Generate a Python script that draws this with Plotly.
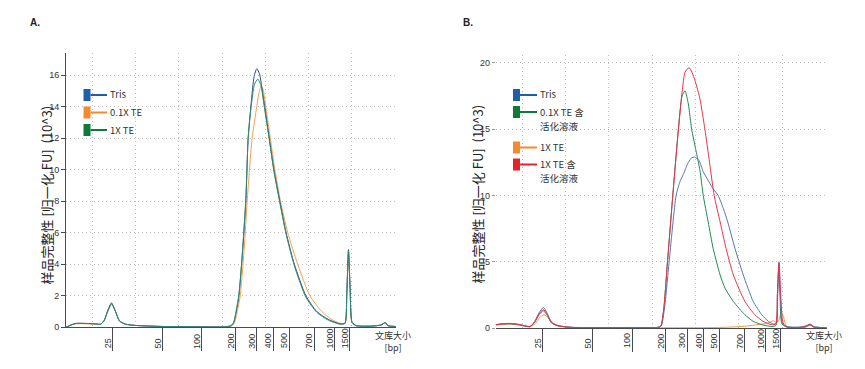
import plotly.graph_objects as go

# Page body has an 8px default margin: figure is drawn at (8, 8) in the window.
OFF = 8
W, H = 865 - 2 * OFF, 369 - 2 * OFF

# ---------------- data ----------------
# size ladder: bp labels and their migration positions (time units 0-100)
ladder_bp = ["25", "50", "100", "200", "300", "400", "500", "700", "1000", "1500"]
ladder_pos = [14.2, 29.1, 41.2, 51.4, 57.8, 62.8, 67.6, 75.3, 81.5, 86.0]

a_yticks = [0, 2, 4, 6, 8, 10, 12, 14, 16]
b_yticks = [0, 5, 10, 15, 20]

# Panel A traces: (migration position, normalized FU x10^3)
A_TRIS = [(0, 0.0), (1.5, 0.15), (3, 0.25), (6, 0.25), (9, 0.22), (10.5, 0.2), (11.6, 0.45),
          (12.6, 1.05), (13.8, 1.55), (15.0, 1.0), (16.2, 0.4), (18, 0.2), (21, 0.12), (25, 0.08),
          (30, 0.05), (40, 0.03), (48, 0.03), (50, 0.1), (50.8, 0.3), (51.5, 0.9), (52.4, 2.0),
          (53.4, 4.5), (54.5, 8.0), (55.2, 12.0), (56.1, 14.2), (57.0, 15.9), (57.8, 16.4),
          (58.6, 16.1), (59.8, 14.6), (61.6, 12.0), (63.0, 10.0), (64.8, 8.0), (66.7, 6.0),
          (69.2, 4.0), (72.7, 2.0), (76.0, 1.0), (79.5, 0.5), (83.0, 0.22), (84.5, 0.25),
          (85.1, 2.2), (85.6, 4.9), (86.1, 2.4), (86.7, 0.3), (88, 0.1), (93, 0.08), (95.5, 0.15),
          (96.7, 0.3), (97.6, 0.1), (100, 0.05)]
A_TE01 = [(0, 0.0), (1.5, 0.12), (3, 0.22), (6, 0.22), (9, 0.2), (10.5, 0.18), (11.6, 0.4),
          (12.6, 0.95), (13.9, 1.45), (15.1, 0.95), (16.3, 0.4), (18, 0.2), (21, 0.12), (25, 0.08),
          (30, 0.05), (40, 0.03), (48, 0.03), (50.2, 0.08), (51.0, 0.25), (51.8, 0.9), (52.8, 2.0),
          (54.0, 5.0), (54.9, 8.0), (55.6, 10.0), (56.4, 12.0), (57.8, 14.0), (58.5, 14.9),
          (59.1, 15.3), (59.7, 15.1), (60.6, 13.9), (61.9, 12.0), (63.3, 10.0), (65.0, 8.0),
          (67.2, 6.0), (70.2, 4.0), (73.9, 2.0), (77.5, 1.0), (80.5, 0.5), (83.2, 0.25),
          (84.6, 0.25), (85.1, 2.0), (85.6, 4.7), (86.1, 2.3), (86.7, 0.3), (88, 0.1), (93, 0.08),
          (95.5, 0.15), (96.7, 0.28), (97.6, 0.1), (100, 0.05)]
A_TE1 = [(0, 0.0), (1.5, 0.15), (3, 0.24), (6, 0.24), (9, 0.21), (10.5, 0.2), (11.6, 0.45),
         (12.6, 1.0), (13.8, 1.5), (15.0, 1.0), (16.2, 0.4), (18, 0.2), (21, 0.12), (25, 0.08),
         (30, 0.05), (40, 0.03), (48, 0.03), (50, 0.1), (50.8, 0.3), (51.5, 0.95), (52.4, 2.1),
         (53.4, 4.6), (54.5, 8.2), (55.2, 12.0), (56.1, 14.0), (57.1, 15.4), (58.1, 15.75),
         (59.0, 15.4), (60.0, 14.1), (61.6, 11.9), (63.0, 9.9), (64.8, 7.9), (66.7, 5.9),
         (69.2, 3.9), (72.7, 1.9), (76.0, 0.95), (79.5, 0.45), (83.0, 0.2), (84.5, 0.25),
         (85.1, 2.3), (85.6, 4.95), (86.1, 2.5), (86.7, 0.3), (88, 0.1), (93, 0.08), (95.5, 0.15),
         (96.7, 0.3), (97.6, 0.1), (100, 0.05)]

# Panel B traces
B_TRIS = [(0, 0.25), (2, 0.32), (4.3, 0.35), (7, 0.28), (10.4, 0.12), (11.8, 0.5), (13.1, 1.15),
          (14.4, 1.55), (15.6, 1.1), (16.8, 0.45), (18.5, 0.2), (22.4, 0.06), (30, 0.03), (45, 0.02),
          (49.0, 0.05), (50.0, 0.15), (51.0, 1.5), (52.4, 5.0), (54.5, 10.0), (55.6, 11.0),
          (56.7, 11.6), (58.2, 12.5), (59.2, 12.85), (60.0, 12.9), (60.8, 12.8), (61.5, 12.6),
          (62.7, 11.8), (64.5, 11.0), (65.7, 10.5), (67.2, 10.0), (68.8, 9.0), (70.1, 8.0),
          (72.3, 6.0), (74.8, 4.0), (77.8, 2.0), (80.4, 1.0), (82.4, 0.5), (83.9, 0.3),
          (84.8, 0.35), (85.2, 2.5), (85.6, 5.0), (86.0, 2.5), (86.6, 0.4), (88, 0.1),
          (93.5, 0.1), (95, 0.3), (96.2, 0.1), (100, 0.02)]
B_TE01_ACT = [(0, 0.25), (2, 0.3), (4.3, 0.32), (7, 0.25), (10.4, 0.1), (11.8, 0.45), (13.1, 1.0),
              (14.4, 1.3), (15.6, 0.95), (16.8, 0.4), (18.5, 0.18), (22.4, 0.05), (30, 0.02),
              (45, 0.02), (49.0, 0.05), (49.9, 0.15), (50.8, 1.5), (51.9, 5.0), (53.5, 10.0),
              (55.2, 15.0), (56.3, 17.5), (57.2, 17.9), (58.2, 16.9), (59.2, 15.0), (60.5, 13.4),
              (61.7, 11.9), (62.7, 10.0), (64.2, 8.0), (65.7, 6.0), (67.8, 4.0), (69.3, 3.0),
              (71.8, 2.0), (75.3, 1.0), (77.8, 0.5), (80.8, 0.22), (83.5, 0.12), (84.7, 0.2),
              (85.1, 2.5), (85.5, 4.8), (85.9, 2.4), (86.5, 0.3), (88, 0.08), (93.5, 0.08),
              (95, 0.25), (96.2, 0.08), (100, 0.02)]
B_TE1 = [(0, 0.2), (2, 0.28), (4.3, 0.3), (7, 0.22), (10.4, 0.1), (12, 0.35), (13.3, 0.8),
         (14.6, 1.0), (16.0, 0.75), (17.5, 0.35), (19.5, 0.15), (23, 0.05), (30, 0.02), (50, 0.02),
         (65, 0.03), (72, 0.08), (76, 0.15), (79, 0.25), (82, 0.35), (83.8, 0.55), (84.6, 0.45),
         (85.4, 0.5), (86.3, 1.2), (87.0, 0.8), (87.8, 0.15), (89, 0.05), (93.5, 0.05),
         (95, 0.2), (96.2, 0.05), (100, 0.02)]
B_TE1_ACT = [(0, 0.25), (2, 0.3), (4.3, 0.33), (7, 0.26), (10.4, 0.11), (11.8, 0.48), (13.1, 1.05),
             (14.4, 1.4), (15.6, 1.0), (16.8, 0.42), (18.5, 0.19), (22.4, 0.05), (30, 0.02),
             (45, 0.02), (49.0, 0.05), (49.9, 0.15), (50.8, 1.5), (51.9, 5.0), (53.5, 10.0),
             (55.2, 15.0), (56.4, 18.0), (57.2, 19.3), (58.4, 19.65), (59.3, 19.3), (60.3, 18.6),
             (61.7, 17.3), (63.2, 15.0), (64.6, 12.5), (66.0, 10.0), (67.8, 8.0), (69.6, 6.0),
             (71.8, 4.0), (75.3, 2.0), (78.3, 1.0), (80.8, 0.5), (83.4, 0.25), (84.6, 0.3),
             (85.1, 2.5), (85.6, 4.9), (86.1, 2.5), (86.7, 0.5), (87.5, 0.1), (92, 0.05),
             (95, 0.25), (96.2, 0.05), (100, 0.02)]

a_names = [["Tris"], ["0.1X TE"], ["1X TE"]]
b_names = [["Tris"], ["0.1X TE 含", "活化溶液"], ["1X TE"], ["1X TE 含", "活化溶液"]]

# ---------------- styling ----------------
FONT = "Liberation Sans, Arial, Noto Sans CJK SC, sans-serif"
CJK = "Noto Sans CJK SC, Liberation Sans, sans-serif"
TXT = "#333333"
GRID = "#bdbdbd"
GDASH = "1px,3px"
AXL = "#4a4a4a"

def px(x):
    return (x - OFF) / W

def py(y):
    return 1 - (y - OFF) / H

fig = go.Figure()

def add(series, xa, ya, color, width=1.0):
    fig.add_trace(go.Scatter(
        x=[p[0] for p in series], y=[p[1] for p in series],
        xaxis=xa, yaxis=ya, mode="lines",
        line=dict(color=color, width=width, shape="spline", smoothing=0.6),
        showlegend=False, hoverinfo="skip"))

# Panel A
add(A_TE01, "x", "y", "#f2a24f")
add(A_TRIS, "x", "y", "#2c4d8c")
add(A_TE1, "x", "y", "#2f8c72")
# Panel B
add(B_TE1, "x2", "y2", "#f39b3c")
add(B_TE01_ACT, "x2", "y2", "#1f8a55")
add(B_TRIS, "x2", "y2", "#5a73b2")
add(B_TE1_ACT, "x2", "y2", "#e8334a")

# empty traces to activate grid-only overlay axes
fig.add_trace(go.Scatter(x=[], y=[], xaxis="x3", yaxis="y", showlegend=False))
fig.add_trace(go.Scatter(x=[], y=[], xaxis="x4", yaxis="y2", showlegend=False))

A_X0, A_X1, A_Y0, A_Y1 = 66, 396, 327.3, 53
B_X0, B_X1, B_Y0, B_Y1 = 495.7, 826.7, 328, 55

def xaxis_main(x0, x1, anchor):
    return dict(domain=[px(x0), px(x1)], range=[0, 100], anchor=anchor,
                tickmode="array", tickvals=ladder_pos, ticks="outside", ticklen=23,
                tickcolor=AXL, tickwidth=1, showticklabels=False, showgrid=False,
                showline=True, linecolor=AXL, linewidth=1, zeroline=False,
                automargin=False, fixedrange=True)

def xaxis_grid(over, anchor):
    return dict(overlaying=over, anchor=anchor, range=[0, 100], tick0=8.0, dtick=13.1,
                showgrid=True, gridcolor=GRID, griddash=GDASH, gridwidth=1,
                showticklabels=False, ticks="", showline=False, zeroline=False,
                automargin=False, fixedrange=True)

fig.update_layout(
    width=W, height=H, autosize=False,
    margin=dict(l=0, r=0, t=0, b=0, pad=0),
    paper_bgcolor="white", plot_bgcolor="white",
    font=dict(family=FONT, color=TXT),
    xaxis=xaxis_main(A_X0, A_X1, "y"),
    xaxis2=xaxis_main(B_X0, B_X1, "y2"),
    xaxis3=xaxis_grid("x", "y"),
    xaxis4=xaxis_grid("x2", "y2"),
    yaxis=dict(domain=[py(A_Y0), py(A_Y1)], range=[0, 17.4], anchor="x",
               tickmode="array", tickvals=a_yticks, ticks="outside", ticklen=4,
               tickcolor=AXL, tickfont=dict(size=9, color=TXT),
               showgrid=True, gridcolor=GRID, griddash=GDASH,
               showline=True, linecolor=AXL, linewidth=1, zeroline=False,
               automargin=False, fixedrange=True),
    yaxis2=dict(domain=[py(B_Y0), py(B_Y1)], range=[0, 20.6], anchor="x2",
                tickmode="array", tickvals=b_yticks, ticks="outside", ticklen=3,
                tickcolor="#9a9a9a", tickfont=dict(size=9, color=TXT),
                showgrid=True, gridcolor=GRID, griddash=GDASH,
                showline=False, zeroline=False, automargin=False, fixedrange=True),
)

ann = []
shapes = []

# bp tick labels (bottom-aligned, rotated)
for xa in ("x", "x2"):
    for lab, pos in zip(ladder_bp, ladder_pos):
        ann.append(dict(x=pos, xref=xa, y=py(350.5), yref="paper", text=lab,
                        textangle=-90, showarrow=False, xanchor="center", yanchor="bottom",
                        xshift=-5, font=dict(size=9, color=TXT, family=FONT)))

# x-axis title "文库大小 [bp]"
for cx, cy in ((393, 341.5), (824, 341.5)):
    ann.append(dict(x=px(cx), y=py(cy), xref="paper", yref="paper", text="文库大小<br>[bp]",
                    showarrow=False, xanchor="center", yanchor="middle", align="center",
                    font=dict(size=9, color=TXT, family=CJK)))

# y-axis titles
for cx, cy in ((45.5, 195), (476.5, 194)):
    ann.append(dict(x=px(cx), y=py(cy), xref="paper", yref="paper",
                    text="样品完整性 [归一化 FU]  (10^3)", textangle=-90, showarrow=False,
                    xanchor="center", yanchor="middle",
                    font=dict(size=13, color="#222222", family=CJK)))

# panel labels
for tx, x in (("A.", 28), ("B.", 461)):
    ann.append(dict(x=px(x), y=py(23), xref="paper", yref="paper", text="<b>%s</b>" % tx,
                    showarrow=False, xanchor="left", yanchor="middle",
                    font=dict(size=10, color="#222222", family=FONT)))

# custom legends
def legend_item(rx, cy, color, lines, lx_end, tx):
    shapes.append(dict(type="rect", xref="paper", yref="paper",
                       x0=px(rx), x1=px(rx + 7), y0=py(cy + 6), y1=py(cy - 6),
                       fillcolor=color, line=dict(width=0)))
    shapes.append(dict(type="line", xref="paper", yref="paper",
                       x0=px(rx + 7), x1=px(lx_end), y0=py(cy), y1=py(cy),
                       line=dict(color=color, width=2)))
    for i, t in enumerate(lines):
        ann.append(dict(x=px(tx), y=py(cy - 0.5 + 14 * i), xref="paper", yref="paper", text=t,
                        showarrow=False, xanchor="left", yanchor="middle", align="left",
                        borderpad=0, font=dict(size=9.5, color=TXT, family=CJK)))

a_leg_colors = ["#1f5fa8", "#f5892e", "#0d7a3c"]
for name, color, cy in zip(a_names, a_leg_colors, (95, 112.5, 130)):
    legend_item(83.5, cy, color, name, 107, 109)

b_leg_colors = ["#1f5fa8", "#0d7a3c", "#f5892e", "#e5232a"]
for name, color, cy in zip(b_names, b_leg_colors, (95, 112, 147.5, 164.5)):
    legend_item(513, cy, color, name, 537, 539)

fig.update_layout(annotations=ann, shapes=shapes)

fig.write_html("out.html")
